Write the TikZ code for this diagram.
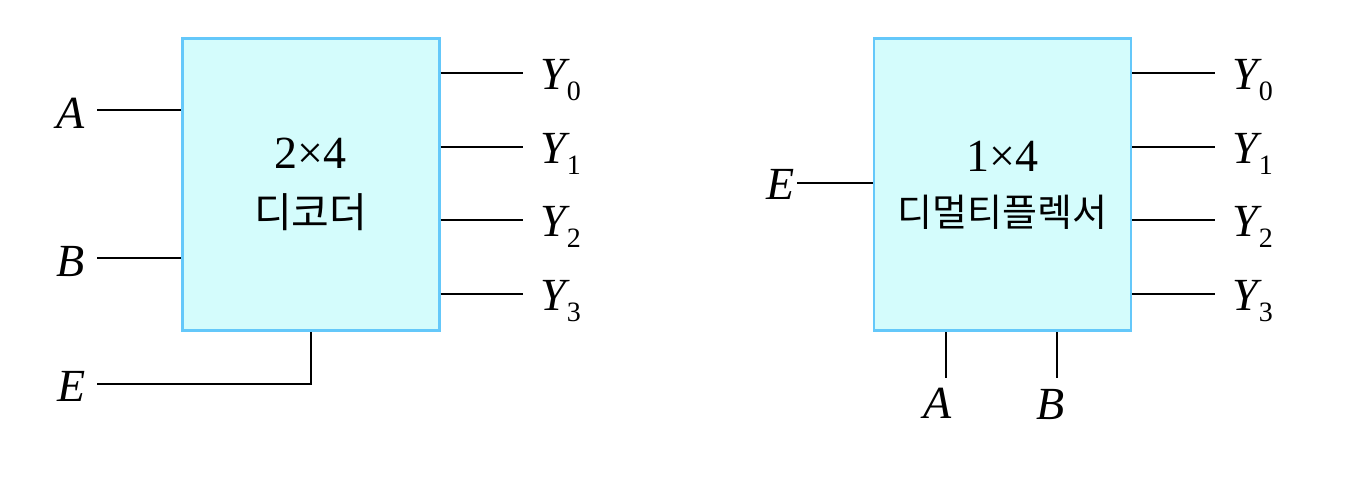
\documentclass[tikz,border=0pt]{standalone}
\usepackage{fontspec}
\setmainfont{Liberation Serif}
\newfontfamily\krfont{Noto Sans CJK KR}
\definecolor{boxfill}{RGB}{212,252,252}
\definecolor{boxline}{RGB}{100,200,250}
\newcommand\ysub[1]{\textit{Y}\kern-3pt\raisebox{-10.5pt}{\fontsize{28}{28}\selectfont #1}}
\tikzset{
  blk/.style={draw=boxline, fill=boxfill, line width=2.8pt, minimum width=257pt, minimum height=292.6pt, inner sep=0pt},
  wire/.style={draw=black, line width=2.8pt},
  lbl/.style={inner sep=0pt, anchor=base west, font=\fontsize{46}{46}\selectfont\itshape},
  outlbl/.style={inner sep=0pt, anchor=base west, font=\fontsize{46}{46}\selectfont},
  numtxt/.style={inner sep=0pt, anchor=base, font=\fontsize{46}{46}\selectfont},
}
\begin{document}
\begin{tikzpicture}[x=1pt,y=-1pt]
\useasboundingbox (0,0) rectangle (1366,488);
% ---------- decoder ----------
\node[blk] (dec) at (310.8,184.5) {};
\node[numtxt] (dect) at (310.8,168) {2×4};
\node[inner sep=0pt, anchor=base, font=\fontsize{41}{41}\selectfont\krfont] (deck) at (310.8,227) {디코더};
\node[lbl] (dA) at (56,128) {A};
\node[lbl] (dB) at (56,276) {B};
\node[lbl] (dE) at (57,401) {E};
\coordinate (dAw) at (97,110);
\coordinate (dBw) at (97,258);
\coordinate (dEw) at (97,384);
\coordinate (dEc) at (311,384);
\draw[wire] (dAw) -- (dAw -| dec.west);
\draw[wire] (dBw) -- (dBw -| dec.west);
\draw[wire] (dEw) -- (dEc) -- (dEc |- dec.south);
\foreach \i/\yy in {0/73,1/147,2/220,3/294}{
  \coordinate (dY\i w) at (523,\yy);
  \draw[wire] (dY\i w -| dec.east) -- (dY\i w);
  \node[outlbl] (dY\i) at (540,\yy+16.5) {\ysub{\i}};
}
% ---------- demultiplexer ----------
\node[blk] (dmx) at (1002.5,184.5) {};
\node[numtxt] (dmxt) at (1002.5,171) {1×4};
\node[inner sep=0pt, anchor=base, font=\fontsize{38}{38}\selectfont\krfont] (dmxk) at (1002.5,226) {디멀티플렉서};
\node[lbl] (mE) at (766,199) {E};
\coordinate (mEw) at (797,183);
\draw[wire] (mEw) -- (mEw -| dmx.west);
\node[lbl] (mA) at (923,418) {A};
\node[lbl] (mB) at (1036,419) {B};
\coordinate (mAs) at (946,378);
\coordinate (mBs) at (1057,378);
\draw[wire] (mAs |- dmx.south) -- (mAs);
\draw[wire] (mBs |- dmx.south) -- (mBs);
\foreach \i/\yy in {0/73,1/147,2/220,3/294}{
  \coordinate (mY\i w) at (1215,\yy);
  \draw[wire] (mY\i w -| dmx.east) -- (mY\i w);
  \node[outlbl] (mY\i) at (1232,\yy+16.5) {\ysub{\i}};
}
\end{tikzpicture}
\end{document}
